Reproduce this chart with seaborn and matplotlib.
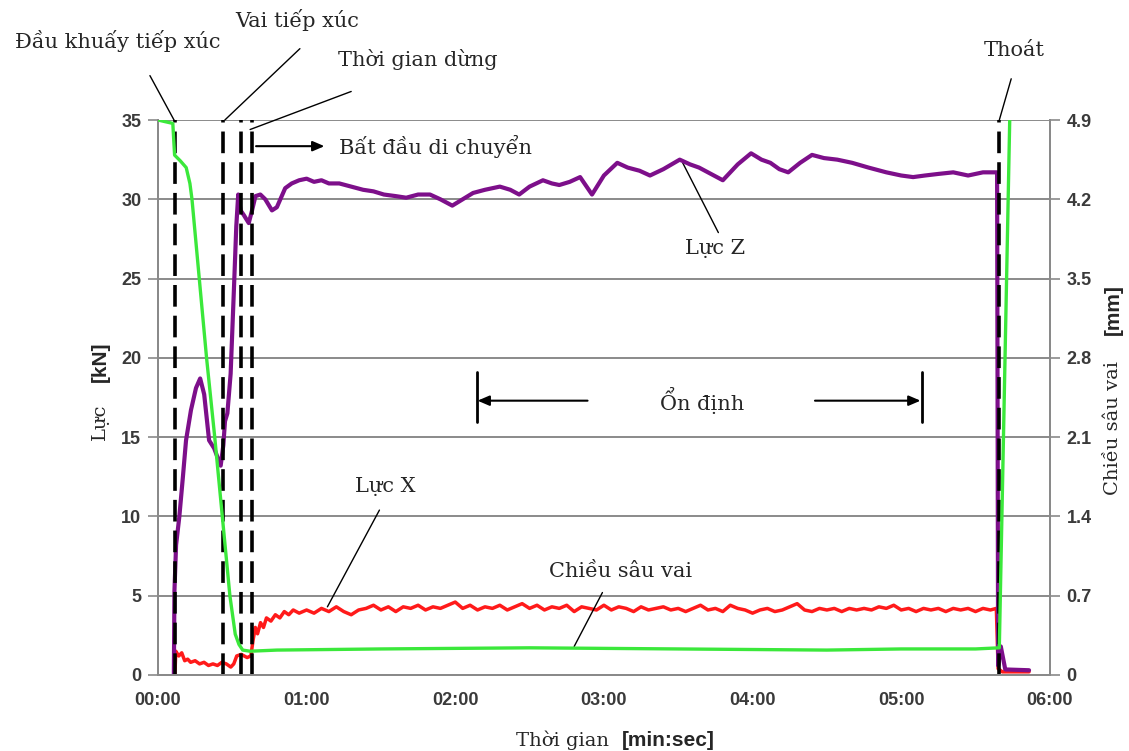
import numpy as np
import matplotlib
matplotlib.use("Agg")
import matplotlib.pyplot as plt
import seaborn as sns

# time in minutes
# Luc Z (kN)
z_t = [0.107, 0.111, 0.122, 0.144, 0.167, 0.189, 0.222, 0.256, 0.284, 0.311,
       0.344, 0.378, 0.422, 0.44, 0.451, 0.467, 0.489, 0.511, 0.527, 0.540,
       0.556, 0.578, 0.611, 0.633, 0.656, 0.689, 0.722, 0.767, 0.80, 0.856,
       0.90, 0.95, 1.00, 1.05, 1.10, 1.15, 1.22, 1.30, 1.38, 1.45,
       1.52, 1.60, 1.67, 1.75, 1.83, 1.90, 1.98, 2.05, 2.12, 2.20,
       2.30, 2.37, 2.43, 2.50, 2.59, 2.65, 2.70, 2.77, 2.84, 2.92,
       3.00, 3.09, 3.16, 3.24, 3.31, 3.40, 3.51, 3.58, 3.64, 3.72,
       3.80, 3.90, 3.99, 4.06, 4.12, 4.18, 4.24, 4.32, 4.40, 4.48,
       4.57, 4.67, 4.78, 4.90, 5.00, 5.08, 5.16, 5.25, 5.35, 5.45,
       5.55, 5.645, 5.652, 5.67, 5.70, 5.86]
z_kn = [0.0, 5.3, 8.2, 10.0, 12.4, 14.8, 16.7, 18.1, 18.7, 17.7,
        14.8, 14.3, 13.2, 14.5, 16.0, 16.5, 19.0, 24.3, 28.3, 30.3,
        29.3, 29.0, 28.5, 29.3, 30.2, 30.3, 30.0, 29.3, 29.5, 30.7,
        31.0, 31.2, 31.3, 31.1, 31.2, 31.0, 31.0, 30.8, 30.6, 30.5,
        30.3, 30.2, 30.1, 30.3, 30.3, 30.0, 29.6, 30.0, 30.4, 30.6,
        30.8, 30.6, 30.3, 30.8, 31.2, 31.0, 30.9, 31.1, 31.4, 30.3,
        31.5, 32.3, 32.0, 31.8, 31.5, 31.9, 32.5, 32.2, 32.0, 31.6,
        31.2, 32.2, 32.9, 32.5, 32.3, 31.9, 31.7, 32.3, 32.8, 32.6,
        32.5, 32.3, 32.0, 31.7, 31.5, 31.4, 31.5, 31.6, 31.7, 31.5,
        31.7, 31.7, 0.6, 1.8, 0.35, 0.3]

# Luc X (kN): start-up part
xs_t = [0.114, 0.12, 0.14, 0.16, 0.18, 0.20, 0.22, 0.25, 0.28, 0.31,
        0.34, 0.37, 0.40, 0.43, 0.46, 0.49, 0.51, 0.53, 0.56, 0.60,
        0.625, 0.64, 0.655, 0.67, 0.69, 0.71, 0.73, 0.76, 0.79, 0.82,
        0.85, 0.88, 0.91, 0.95]
xs_kn = [0.0, 1.5, 1.2, 1.4, 0.9, 1.0, 0.8, 0.9, 0.7, 0.8,
         0.6, 0.7, 0.6, 0.8, 0.7, 0.5, 0.7, 1.2, 1.3, 1.1,
         1.2, 2.2, 3.0, 2.6, 3.3, 3.0, 3.6, 3.4, 3.8, 3.6,
         4.0, 3.8, 4.1, 3.9]
# Luc X: steady part and exit
xr_t = [1.00, 1.05, 1.10, 1.15, 1.20, 1.25, 1.30, 1.35, 1.40, 1.45,
        1.50, 1.55, 1.60, 1.65, 1.70, 1.75, 1.80, 1.85, 1.90, 1.95,
        2.00, 2.05, 2.10, 2.15, 2.20, 2.25, 2.30, 2.35, 2.40, 2.45,
        2.50, 2.55, 2.60, 2.65, 2.70, 2.75, 2.80, 2.85, 2.90, 2.95,
        3.00, 3.05, 3.10, 3.15, 3.20, 3.25, 3.30, 3.35, 3.40, 3.45,
        3.50, 3.55, 3.60, 3.65, 3.70, 3.75, 3.80, 3.85, 3.90, 3.95,
        4.00, 4.05, 4.10, 4.15, 4.20, 4.25, 4.30, 4.35, 4.40, 4.45,
        4.50, 4.55, 4.60, 4.65, 4.70, 4.75, 4.80, 4.85, 4.90, 4.95,
        5.00, 5.05, 5.10, 5.15, 5.20, 5.25, 5.30, 5.35, 5.40, 5.45,
        5.50, 5.55, 5.60, 5.64, 5.652, 5.68, 5.86]
xr_kn = [4.1, 3.9, 4.2, 4.0, 4.3, 4.0, 3.8, 4.1, 4.2, 4.4,
         4.1, 4.3, 4.0, 4.3, 4.2, 4.4, 4.1, 4.3, 4.2, 4.4,
         4.6, 4.2, 4.4, 4.1, 4.3, 4.2, 4.4, 4.1, 4.3, 4.5,
         4.2, 4.4, 4.1, 4.3, 4.2, 4.4, 4.0, 4.3, 4.2, 4.1,
         4.4, 4.1, 4.3, 4.2, 4.0, 4.3, 4.1, 4.2, 4.3, 4.1,
         4.2, 4.0, 4.2, 4.4, 4.1, 4.2, 4.0, 4.4, 4.2, 4.1,
         3.9, 4.1, 4.2, 4.0, 4.1, 4.3, 4.5, 4.1, 4.0, 4.2,
         4.1, 4.2, 4.0, 4.2, 4.1, 4.2, 4.1, 4.3, 4.2, 4.4,
         4.1, 4.2, 4.0, 4.2, 4.1, 4.2, 4.0, 4.2, 4.1, 4.2,
         4.0, 4.2, 4.1, 4.2, 0.4, 0.2, 0.2]

# Chieu sau vai (mm), right axis
d_t = [0.0, 0.10, 0.112, 0.15, 0.19, 0.215, 0.229, 0.278, 0.327, 0.382,
       0.433, 0.484, 0.52, 0.545, 0.57, 0.62, 0.8, 1.5, 2.5, 3.5,
       4.5, 5.0, 5.5, 5.66, 5.73]
d_mm = [4.90, 4.87, 4.59, 4.54, 4.48, 4.34, 4.20, 3.50, 2.80, 2.10,
        1.40, 0.70, 0.36, 0.27, 0.22, 0.21, 0.22, 0.23, 0.24, 0.23,
        0.22, 0.23, 0.23, 0.24, 4.90]

# event markers (dashed lines)
events = [0.114, 0.44, 0.56, 0.635, 5.66]

x_ticks = [0, 1, 2, 3, 4, 5, 6]
x_labels = ["00:00", "01:00", "02:00", "03:00", "04:00", "05:00", "06:00"]
kn_ticks = [0, 5, 10, 15, 20, 25, 30, 35]
mm_ticks = [0, 0.7, 1.4, 2.1, 2.8, 3.5, 4.2, 4.9]
mm_labels = ["0", "0.7", "1.4", "2.1", "2.8", "3.5", "4.2", "4.9"]

sns.set_style("white")
plt.rcParams['font.family'] = ['DejaVu Serif', 'DejaVu Sans']

SERIF = 'DejaVu Serif'
SANS = 'Liberation Sans'
GRID = '#8a8a8a'
TICKC = '#3a3a3a'

fig = plt.figure(figsize=(11.29, 7.51), dpi=100)
ax = fig.add_axes([0.1399, 0.1012, 0.790, 0.739])
ax2 = ax.twinx()

sns.lineplot(x=xs_t + xr_t, y=xs_kn + xr_kn, ax=ax, color='#ff1a1a', lw=2.5,
             sort=False, estimator=None, zorder=3)
sns.lineplot(x=z_t, y=z_kn, ax=ax, color='#7d0f8a', lw=3.0,
             sort=False, estimator=None, zorder=4)
sns.lineplot(x=d_t, y=d_mm, ax=ax2, color='#3be83b', lw=2.4,
             sort=False, estimator=None, zorder=3)
for ev in events:
    ax2.axvline(ev, color='black', lw=2.6, dashes=(6, 2.5), zorder=2)

ax.set_xlim(0, 6)
ax.set_ylim(0, 35)
ax2.set_ylim(0, 4.9)

ax.set_xticks(x_ticks)
ax.set_xticklabels(x_labels, fontfamily=SANS, fontweight='bold', fontsize=13, color=TICKC)
ax.set_yticks(kn_ticks)
ax.set_yticklabels([str(v) for v in kn_ticks], fontfamily=SANS, fontweight='bold',
                   fontsize=13, color=TICKC)
ax2.set_yticks(mm_ticks)
ax2.set_yticklabels(mm_labels, fontfamily=SANS, fontweight='bold', fontsize=13, color=TICKC)

ax.grid(axis='y', color=GRID, lw=1.4)
ax.grid(axis='x', visible=False)
ax.tick_params(axis='both', direction='out', length=7, width=1.2, color=GRID, pad=5)
ax.tick_params(axis='x', length=5, pad=7)
ax2.tick_params(axis='y', direction='out', length=7, width=1.2, color=GRID, pad=5)
ax.set_xlabel("")
ax.set_ylabel("")
ax2.set_ylabel("")
for a in (ax, ax2):
    a.spines['top'].set_visible(False)
    for s in ('left', 'bottom', 'right'):
        a.spines[s].set_color(GRID)
        a.spines[s].set_linewidth(1.4)

# axis titles (serif word + bold sans unit)
fig.text(563 / 1129, 1 - 740 / 751, "Thời gian", family=SERIF, fontsize=14,
         ha='center', va='center')
fig.text(668 / 1129, 1 - 740 / 751, "[min:sec]", family=SANS, fontweight='bold',
         fontsize=15, ha='center', va='center')
fig.text(100 / 1129, 1 - 422 / 751, "Lực", family=SERIF, fontsize=14,
         rotation=90, ha='center', va='center')
fig.text(100 / 1129, 1 - 362 / 751, "[kN]", family=SANS, fontweight='bold',
         fontsize=15, rotation=90, ha='center', va='center')
fig.text(1113 / 1129, 1 - 428 / 751, "Chiều sâu vai", family=SERIF, fontsize=14,
         rotation=90, ha='center', va='center')
fig.text(1113 / 1129, 1 - 310 / 751, "[mm]", family=SANS, fontweight='bold',
         fontsize=15, rotation=90, ha='center', va='center')


def callout(text, txy, start, end):
    ax.text(txy[0], txy[1], text, family=SERIF, fontsize=15, ha='center',
            va='center', clip_on=False)
    ax.annotate('', xy=end, xytext=start, annotation_clip=False,
                arrowprops=dict(arrowstyle='-', color='black', lw=1.0,
                                shrinkA=0, shrinkB=0))


callout("Đầu khuấy tiếp xúc", (-0.27, 40.0), (-0.054, 37.8), (0.114, 34.9))
callout("Vai tiếp xúc", (0.94, 41.3), (0.955, 39.5), (0.45, 35.0))
callout("Thời gian dừng", (1.75, 38.8), (1.30, 36.8), (0.62, 34.4))
callout("Thoát", (5.76, 39.4), (5.74, 37.6), (5.66, 35.0))
callout("Lực Z", (3.75, 26.9), (3.53, 32.3), (3.77, 27.9))
callout("Lực X", (1.53, 11.9), (1.49, 10.4), (1.14, 4.3))
callout("Chiều sâu vai", (3.11, 6.5), (2.99, 5.2), (2.80, 1.8))

# start of travel
ax.annotate('', xy=(1.12, 33.35), xytext=(0.66, 33.35), annotation_clip=False,
            arrowprops=dict(arrowstyle='-|>,head_length=0.7,head_width=0.3',
                            color='black', lw=1.5, shrinkA=0, shrinkB=0))
ax.text(1.22, 33.3, "Bất đầu di chuyển", family=SERIF, fontsize=15,
        ha='left', va='center')

# steady region
ax.annotate('', xy=(2.15, 17.3), xytext=(2.89, 17.3),
            arrowprops=dict(arrowstyle='-|>,head_length=0.7,head_width=0.3',
                            color='black', lw=1.5, shrinkA=0, shrinkB=0))
ax.annotate('', xy=(5.13, 17.3), xytext=(4.42, 17.3),
            arrowprops=dict(arrowstyle='-|>,head_length=0.7,head_width=0.3',
                            color='black', lw=1.5, shrinkA=0, shrinkB=0))
ax.plot([2.145, 2.145], [15.95, 19.1], color='black', lw=2.0)
ax.plot([5.14, 5.14], [15.95, 19.1], color='black', lw=2.0)
ax.text(3.66, 17.3, "Ổn định", family=SERIF, fontsize=15, ha='center', va='center')

fig.savefig("out.png", dpi=100)
